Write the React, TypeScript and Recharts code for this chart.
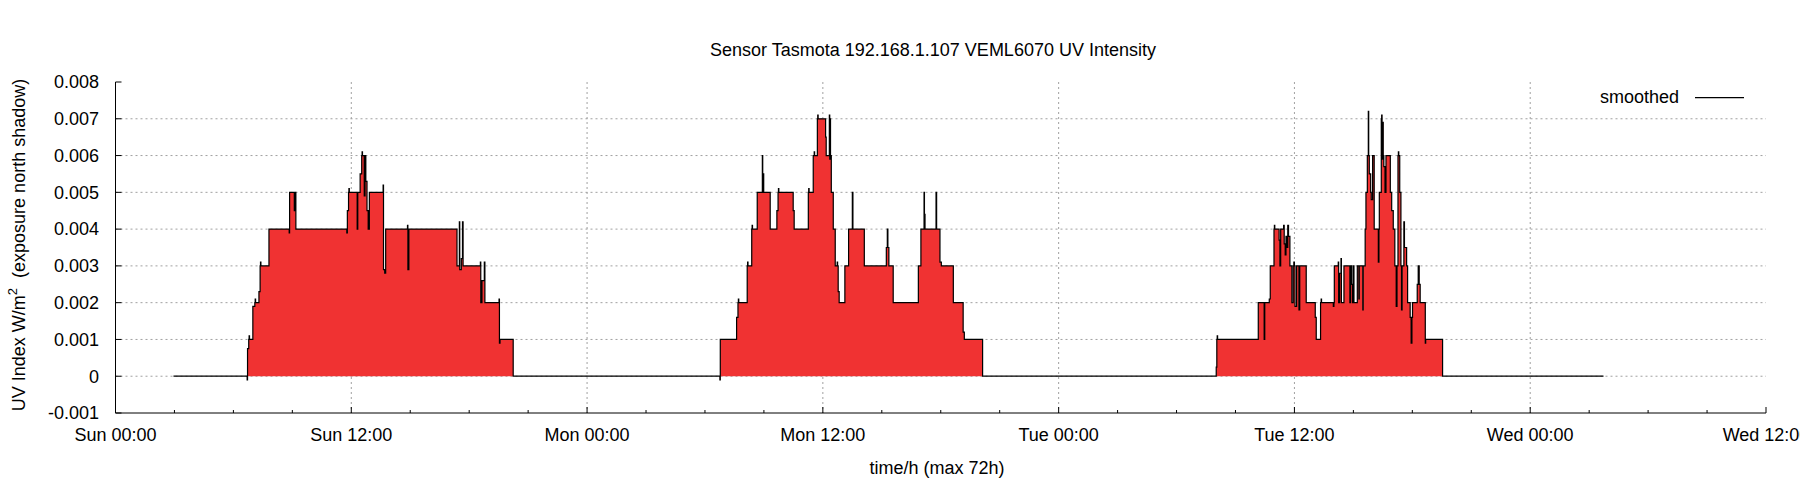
import { AreaChart, Area, XAxis, YAxis, CartesianGrid } from "recharts";

// hours since Sun 00:00, UV in W/m^2 (step data)
const sunday: [number, number][] = [
  [2.95, 0], [6.7, -0.0001], [6.72, 0.00075], [6.78, 0.001], [6.8, 0.0011], [6.82, 0.001],
  [6.99, 0.0019], [7.09, 0.002], [7.11, 0.0021], [7.13, 0.002], [7.3, 0.0023], [7.36, 0.003],
  [7.38, 0.0031], [7.4, 0.003], [7.81, 0.004], [8.84, 0.0039], [8.86, 0.005], [9.1, 0.0045],
  [9.13, 0.005], [9.18, 0.004], [11.77, 0.0039], [11.8, 0.0045], [11.86, 0.005], [11.88, 0.0051],
  [11.9, 0.005], [12.3, 0.004], [12.33, 0.005], [12.45, 0.0055], [12.53, 0.006], [12.55, 0.0061],
  [12.57, 0.006], [12.66, 0.0049], [12.7, 0.006], [12.74, 0.0053], [12.8, 0.0045], [12.86, 0.004],
  [12.92, 0.005], [13.62, 0.0052], [13.64, 0.0029], [13.7, 0.0028], [13.75, 0.004], [14.86, 0.0041],
  [14.88, 0.0029], [14.93, 0.004], [17.38, 0.003], [17.5, 0.0042], [17.52, 0.0029], [17.6, 0.0032],
  [17.66, 0.0042], [17.69, 0.003], [18.57, 0.0031], [18.59, 0.002], [18.65, 0.0026], [18.77, 0.0031],
  [18.8, 0.002], [19.52, 0.0021], [19.54, 0.0009], [19.57, 0.001], [20.24, 0],
];

const monday: [number, number][] = [
  [30.76, -0.0001], [30.78, 0.001], [31.61, 0.0016], [31.68, 0.002], [31.7, 0.0021], [31.72, 0.002],
  [32.15, 0.003], [32.17, 0.0031], [32.19, 0.003], [32.38, 0.004], [32.4, 0.0041], [32.42, 0.004],
  [32.66, 0.005], [32.92, 0.006], [32.94, 0.005], [32.97, 0.0055], [32.99, 0.005], [33.32, 0.004],
  [33.66, 0.0045], [33.72, 0.005], [33.74, 0.0051], [33.76, 0.005], [34.49, 0.0045], [34.54, 0.004],
  [35.26, 0.005], [35.28, 0.0051], [35.3, 0.005], [35.51, 0.006], [35.56, 0.0061], [35.58, 0.006],
  [35.72, 0.007], [35.74, 0.0071], [35.76, 0.007], [36.14, 0.0065], [36.17, 0.006], [36.33, 0.0071],
  [36.35, 0.0059], [36.37, 0.007], [36.39, 0.006], [36.43, 0.005], [36.53, 0.004], [36.63, 0.003],
  [36.73, 0.0031], [36.75, 0.003], [36.78, 0.0023], [36.83, 0.002], [37.12, 0.003], [37.31, 0.004],
  [37.5, 0.005], [37.53, 0.004], [38.11, 0.003], [39.23, 0.0035], [39.28, 0.004], [39.31, 0.0035],
  [39.36, 0.003], [39.58, 0.002], [40.86, 0.003], [40.99, 0.004], [41.15, 0.005], [41.17, 0.0044],
  [41.2, 0.004], [41.76, 0.005], [41.79, 0.004], [41.96, 0.0031], [42.03, 0.003], [42.64, 0.002],
  [43.14, 0.0012], [43.2, 0.001], [44.13, 0],
];

const tuesday: [number, number][] = [
  [56.02, 0.00025], [56.05, 0.001], [56.07, 0.0011], [56.09, 0.001], [58.16, 0.002], [58.46, 0.001],
  [58.49, 0.002], [58.72, 0.0021], [58.77, 0.003], [58.96, 0.004], [58.98, 0.0041], [59.0, 0.004],
  [59.22, 0.0037], [59.26, 0.003], [59.3, 0.004], [59.45, 0.0041], [59.48, 0.0036], [59.53, 0.0033],
  [59.57, 0.0038], [59.62, 0.0035], [59.66, 0.0041], [59.7, 0.0038], [59.77, 0.003], [59.87, 0.002],
  [59.94, 0.003], [59.97, 0.0031], [60.0, 0.003], [60.03, 0.0019], [60.11, 0.003], [60.23, 0.0018],
  [60.27, 0.003], [60.6, 0.002], [61.06, 0.0016], [61.11, 0.001], [61.33, 0.002], [61.36, 0.0021],
  [61.38, 0.002], [61.98, 0.0019], [62.01, 0.002], [62.03, 0.003], [62.23, 0.0031], [62.25, 0.002],
  [62.3, 0.0028], [62.37, 0.0032], [62.39, 0.002], [62.52, 0.003], [62.82, 0.002], [62.86, 0.003],
  [62.92, 0.0025], [62.96, 0.002], [63.0, 0.003], [63.03, 0.002], [63.2, 0.003], [63.28, 0.0021],
  [63.3, 0.003], [63.48, 0.0018], [63.5, 0.003], [63.6, 0.004], [63.64, 0.005], [63.71, 0.006],
  [63.76, 0.0072], [63.78, 0.006], [63.81, 0.0055], [63.88, 0.005], [63.91, 0.0048], [63.98, 0.006],
  [64.06, 0.004], [64.27, 0.0031], [64.3, 0.004], [64.32, 0.005], [64.42, 0.007], [64.44, 0.0071],
  [64.46, 0.0059], [64.49, 0.0069], [64.52, 0.006], [64.55, 0.0057], [64.61, 0.005], [64.66, 0.006],
  [64.88, 0.005], [64.95, 0.0045], [65.03, 0.004], [65.11, 0.003], [65.18, 0.0019], [65.22, 0.003],
  [65.27, 0.006], [65.29, 0.0061], [65.31, 0.006], [65.36, 0.005], [65.42, 0.003], [65.45, 0.0018],
  [65.48, 0.003], [65.57, 0.0042], [65.6, 0.0035], [65.71, 0.003], [65.76, 0.002], [65.89, 0.0016],
  [65.94, 0.0009], [65.98, 0.0016], [66.01, 0.002], [66.25, 0.0025], [66.3, 0.003], [66.35, 0.0025],
  [66.4, 0.002], [66.66, 0.0009], [66.68, 0.001], [67.54, 0], [75.73, 0],
];

const xTicks = [0, 3, 6, 9, 12, 15, 18, 21, 24, 27, 30, 33, 36, 39, 42, 45, 48, 51, 54, 57, 60, 63, 66, 69, 72, 75, 78, 81, 84];
const xLabels: Record<number, string> = {
  0: "Sun 00:00", 12: "Sun 12:00", 24: "Mon 00:00", 36: "Mon 12:00",
  48: "Tue 00:00", 60: "Tue 12:00", 72: "Wed 00:00", 84: "Wed 12:00",
};
const yTicks = [-0.001, 0, 0.001, 0.002, 0.003, 0.004, 0.005, 0.006, 0.007, 0.008];
const yLabels = ["-0.001", "0", "0.001", "0.002", "0.003", "0.004", "0.005", "0.006", "0.007", "0.008"];

const data = [...sunday, ...monday, ...tuesday].map(([t, v]) => ({ t, v }));

const FONT = "'Liberation Sans', Arial, sans-serif";
const FS = 18;

const BottomTick = ({ x, y, payload }: any) => {
  const label = xLabels[payload.value];
  return (
    <g>
      <line x1={x} y1={y} x2={x} y2={y - (label ? 6 : 3)} stroke="#000" />
      {label && (
        <text x={x} y={y + 15} dy="0.71em" textAnchor="middle" fontSize={FS} fontFamily={FONT} fill="#000">
          {label}
        </text>
      )}
    </g>
  );
};

const TopTick = ({ x, y, payload }: any) => (
  <line x1={x} y1={y} x2={x} y2={y + (xLabels[payload.value] ? 6 : 3)} stroke="#000" />
);

const LeftTick = ({ x, y, index }: any) => (
  <g>
    <line x1={x} y1={y} x2={x + 6} y2={y} stroke="#000" />
    <text x={x - 16.5} y={y} dy="0.35em" textAnchor="end" fontSize={FS} fontFamily={FONT} fill="#000">
      {yLabels[index]}
    </text>
  </g>
);

const RightTick = ({ x, y }: any) => <line x1={x} y1={y} x2={x - 6} y2={y} stroke="#000" />;

export default function App() {
  return (
    <div style={{ width: 1800, height: 500, background: "#fff" }}>
      <style>{"body{margin:0}"}</style>
      <AreaChart width={1800} height={500} data={data} margin={{ top: 82, right: 34, bottom: 0, left: 0 }}>
        <CartesianGrid
          stroke="#a0a0a0"
          strokeDasharray="2 3"
          horizontalValues={[0, 0.001, 0.002, 0.003, 0.004, 0.005, 0.006, 0.007]}
          verticalValues={[12, 24, 36, 48, 60, 72]}
        />
        <XAxis
          dataKey="t"
          type="number"
          domain={[0, 84]}
          ticks={xTicks}
          interval={0}
          height={87}
          tickSize={0}
          tickMargin={0}
          tickLine={false}
          axisLine={{ stroke: "#000" }}
          tick={<BottomTick />}
        />
        <XAxis
          xAxisId="top"
          orientation="top"
          type="number"
          domain={[0, 84]}
          ticks={xTicks}
          interval={0}
          height={0}
          tickSize={0}
          tickMargin={0}
          tickLine={false}
          axisLine={{ stroke: "#000" }}
          tick={<TopTick />}
        />
        <YAxis
          type="number"
          domain={[-0.001, 0.008]}
          ticks={yTicks}
          interval={0}
          width={115.5}
          tickSize={0}
          tickMargin={0}
          tickLine={false}
          axisLine={{ stroke: "#000" }}
          tick={<LeftTick />}
          allowDataOverflow
        />
        <YAxis
          yAxisId="right"
          orientation="right"
          type="number"
          domain={[-0.001, 0.008]}
          ticks={yTicks}
          interval={0}
          width={0}
          tickSize={0}
          tickMargin={0}
          tickLine={false}
          axisLine={{ stroke: "#000" }}
          tick={<RightTick />}
        />
        <Area
          dataKey="v"
          type="stepAfter"
          stroke="#000"
          strokeWidth={1.2}
          fill="#f03232"
          fillOpacity={1}
          dot={false}
          activeDot={false}
          isAnimationActive={false}
        />
        <text x={933} y={56} textAnchor="middle" fontSize={FS} fontFamily={FONT} fill="#000">
          Sensor Tasmota 192.168.1.107 VEML6070 UV Intensity
        </text>
        <text x={1679} y={103} textAnchor="end" fontSize={FS} fontFamily={FONT} fill="#000">
          smoothed
        </text>
        <line x1={1695} y1={97.7} x2={1744} y2={97.7} stroke="#000" strokeWidth={1.2} />
        <text x={937} y={473.5} textAnchor="middle" fontSize={FS} fontFamily={FONT} fill="#000">
          time/h (max 72h)
        </text>
        <text transform="translate(19,245) rotate(-90)" dy="0.35em" textAnchor="middle" fontSize={FS} fontFamily={FONT} fill="#000">
          UV Index W/m
          <tspan dy={-8} fontSize={13}>2</tspan>
          <tspan dy={8}>{"\u00a0\u00a0(exposure north shadow)"}</tspan>
        </text>
      </AreaChart>
    </div>
  );
}
